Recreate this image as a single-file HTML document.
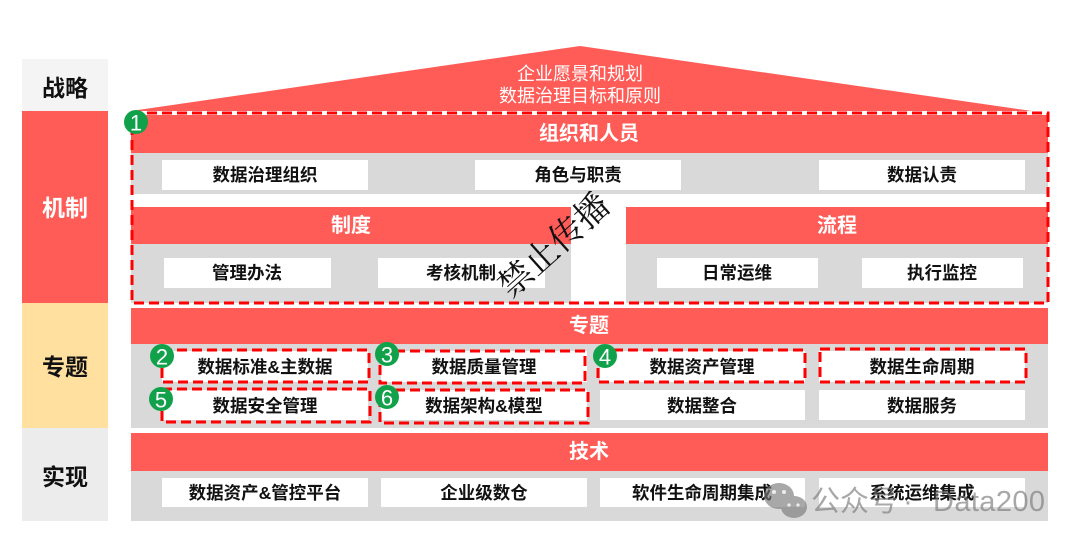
<!DOCTYPE html>
<html><head><meta charset="utf-8">
<style>
html,body{margin:0;padding:0;background:#fff;}
svg{display:block;}
text{font-family:"Liberation Sans","Noto Sans CJK SC",sans-serif;}
.h{font-size:20px;font-weight:700;fill:#fff;}
.b{font-size:17.5px;font-weight:700;fill:#111;}
.l{font-size:23px;font-weight:700;}
.n{font-size:22px;fill:#fff;font-family:"Liberation Sans",sans-serif;}
</style></head>
<body>
<svg width="1080" height="547" viewBox="0 0 1080 547" xmlns="http://www.w3.org/2000/svg">
<rect width="1080" height="547" fill="#fff"/>
<!-- left column -->
<rect x="22" y="59" width="86" height="52" fill="#f4f4f4"/>
<rect x="22" y="111" width="86" height="192" fill="#ff5b57"/>
<rect x="22" y="303" width="86" height="125" fill="#ffe09f"/>
<rect x="22" y="428" width="86" height="93" fill="#ececec"/>
<text class="l" x="65" y="88" text-anchor="middle" dominant-baseline="central" fill="#111">战略</text>
<text class="l" x="65" y="208" text-anchor="middle" dominant-baseline="central" fill="#fff">机制</text>
<text class="l" x="65" y="367" text-anchor="middle" dominant-baseline="central" fill="#111">专题</text>
<text class="l" x="65" y="477" text-anchor="middle" dominant-baseline="central" fill="#111">实现</text>

<!-- roof -->
<polygon points="131,111 580,46 1032,111" fill="#ff5b57"/>
<text x="580" y="74" text-anchor="middle" dominant-baseline="central" font-size="18" fill="#fff">企业愿景和规划</text>
<text x="580" y="96" text-anchor="middle" dominant-baseline="central" font-size="18" fill="#fff">数据治理目标和原则</text>

<!-- 组织和人员 -->
<rect x="131" y="115" width="917" height="38" fill="#ff5b57"/>
<text class="h" x="589" y="134" text-anchor="middle" dominant-baseline="central">组织和人员</text>
<rect x="131" y="153" width="917" height="41" fill="#d9d9d9"/>
<rect x="162" y="160" width="206" height="30" fill="#fff"/>
<rect x="475" y="160" width="206" height="30" fill="#fff"/>
<rect x="819" y="160" width="206" height="30" fill="#fff"/>
<text class="b" x="265" y="175" text-anchor="middle" dominant-baseline="central">数据治理组织</text>
<text class="b" x="578" y="175" text-anchor="middle" dominant-baseline="central">角色与职责</text>
<text class="b" x="922" y="175" text-anchor="middle" dominant-baseline="central">数据认责</text>

<!-- 制度 / 流程 -->
<rect x="131" y="207" width="440" height="37" fill="#ff5b57"/>
<rect x="626" y="207" width="422" height="37" fill="#ff5b57"/>
<text class="h" x="351" y="226" text-anchor="middle" dominant-baseline="central">制度</text>
<text class="h" x="837" y="226" text-anchor="middle" dominant-baseline="central">流程</text>
<rect x="131" y="244" width="440" height="59" fill="#d9d9d9"/>
<rect x="626" y="244" width="422" height="59" fill="#d9d9d9"/>
<rect x="164" y="258" width="167" height="30" fill="#fff"/>
<rect x="378" y="258" width="167" height="30" fill="#fff"/>
<rect x="657" y="258" width="161" height="30" fill="#fff"/>
<rect x="862" y="258" width="161" height="30" fill="#fff"/>
<text class="b" x="247" y="273" text-anchor="middle" dominant-baseline="central">管理办法</text>
<text class="b" x="461" y="273" text-anchor="middle" dominant-baseline="central">考核机制</text>
<text class="b" x="737" y="273" text-anchor="middle" dominant-baseline="central">日常运维</text>
<text class="b" x="942" y="273" text-anchor="middle" dominant-baseline="central">执行监控</text>

<!-- dashed box 1 -->
<rect x="132" y="113" width="916" height="190" fill="none" stroke="#ff0000" stroke-width="3" stroke-dasharray="10 5"/>

<!-- 专题 -->
<rect x="131" y="308" width="917" height="36" fill="#ff5b57"/>
<text class="h" x="589" y="326" text-anchor="middle" dominant-baseline="central">专题</text>
<rect x="131" y="344" width="917" height="84" fill="#d9d9d9"/>
<rect x="162" y="351" width="206" height="31" fill="#fff"/>
<rect x="381" y="351" width="206" height="31" fill="#fff"/>
<rect x="600" y="351" width="205" height="31" fill="#fff"/>
<rect x="819" y="351" width="206" height="31" fill="#fff"/>
<rect x="162" y="390" width="206" height="30" fill="#fff"/>
<rect x="381" y="390" width="206" height="30" fill="#fff"/>
<rect x="600" y="390" width="205" height="30" fill="#fff"/>
<rect x="819" y="390" width="206" height="30" fill="#fff"/>
<text class="b" x="265" y="367" text-anchor="middle" dominant-baseline="central">数据标准&amp;主数据</text>
<text class="b" x="484" y="367" text-anchor="middle" dominant-baseline="central">数据质量管理</text>
<text class="b" x="702" y="367" text-anchor="middle" dominant-baseline="central">数据资产管理</text>
<text class="b" x="922" y="367" text-anchor="middle" dominant-baseline="central">数据生命周期</text>
<text class="b" x="265" y="406" text-anchor="middle" dominant-baseline="central">数据安全管理</text>
<text class="b" x="484" y="406" text-anchor="middle" dominant-baseline="central">数据架构&amp;模型</text>
<text class="b" x="702" y="406" text-anchor="middle" dominant-baseline="central">数据整合</text>
<text class="b" x="922" y="406" text-anchor="middle" dominant-baseline="central">数据服务</text>
<g fill="none" stroke="#ff0000" stroke-width="3" stroke-dasharray="10 5">
<rect x="162" y="350" width="207" height="32"/>
<rect x="380" y="351" width="205" height="32"/>
<rect x="598" y="350" width="207" height="32"/>
<rect x="820" y="349" width="206" height="33"/>
<rect x="162" y="389" width="208" height="33"/>
<rect x="380" y="390" width="208" height="33"/>
</g>

<!-- 技术 -->
<rect x="131" y="433" width="917" height="38" fill="#ff5b57"/>
<text class="h" x="589" y="452" text-anchor="middle" dominant-baseline="central">技术</text>
<rect x="131" y="471" width="917" height="50" fill="#d9d9d9"/>
<rect x="162" y="478" width="206" height="29" fill="#fff"/>
<rect x="381" y="478" width="206" height="29" fill="#fff"/>
<rect x="600" y="478" width="205" height="29" fill="#fff"/>
<rect x="819" y="478" width="206" height="29" fill="#fff"/>
<text class="b" x="265" y="493" text-anchor="middle" dominant-baseline="central">数据资产&amp;管控平台</text>
<text class="b" x="484" y="493" text-anchor="middle" dominant-baseline="central">企业级数仓</text>
<text class="b" x="702" y="493" text-anchor="middle" dominant-baseline="central">软件生命周期集成</text>
<text class="b" x="922" y="493" text-anchor="middle" dominant-baseline="central">系统运维集成</text>

<!-- number circles -->
<g fill="#12a14b">
<circle cx="136" cy="122" r="12"/>
<circle cx="162" cy="356" r="12"/>
<circle cx="387" cy="354" r="12"/>
<circle cx="605" cy="356" r="12"/>
<circle cx="161" cy="399" r="12"/>
<circle cx="387" cy="397" r="12"/>
</g>
<text class="n" x="136" y="123" text-anchor="middle" dominant-baseline="central">1</text>
<text class="n" x="162" y="357" text-anchor="middle" dominant-baseline="central">2</text>
<text class="n" x="387" y="355" text-anchor="middle" dominant-baseline="central">3</text>
<text class="n" x="605" y="357" text-anchor="middle" dominant-baseline="central">4</text>
<text class="n" x="161" y="400" text-anchor="middle" dominant-baseline="central">5</text>
<text class="n" x="387" y="398" text-anchor="middle" dominant-baseline="central">6</text>

<!-- 禁止传播 watermark -->
<text transform="translate(552,243) rotate(-42)" text-anchor="middle" dominant-baseline="central" font-size="34" fill="#111" style="font-family:'Noto Serif CJK SC','Liberation Serif',serif;">禁止传播</text>

<!-- wechat watermark -->
<g fill="#7a7a7a" opacity="0.65">
<ellipse cx="779" cy="496" rx="15" ry="13"/>
<ellipse cx="794" cy="507" rx="13" ry="11"/>
</g>
<g fill="#fff" opacity="0.8">
<circle cx="774" cy="492" r="2"/>
<circle cx="784" cy="492" r="2"/>
<circle cx="789" cy="505" r="1.6"/>
<circle cx="798" cy="505" r="1.6"/>
</g>
<g fill="#7a7a7a" opacity="0.65" font-size="29">
<text x="811" y="502" dominant-baseline="central">公众号</text>
<text x="908" y="502" dominant-baseline="central" text-anchor="middle">·</text>
<text x="933" y="502" dominant-baseline="central" textLength="112" style="font-family:'Liberation Sans',sans-serif;">Data200</text>
</g>
</svg>
</body></html>
